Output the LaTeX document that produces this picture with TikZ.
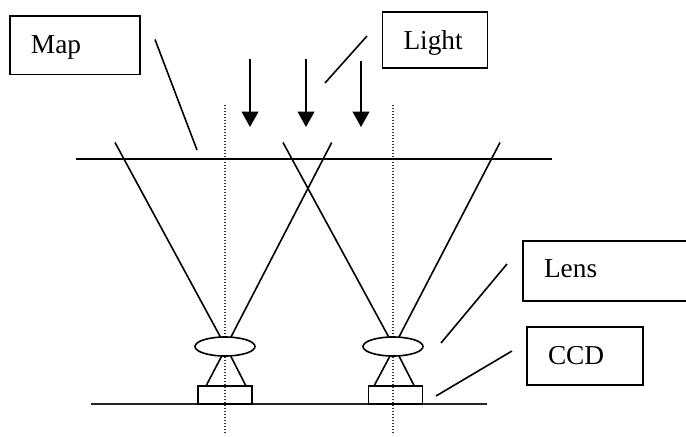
\documentclass[tikz,border=0pt]{standalone}
\usepackage{fontspec}
\setmainfont{Liberation Serif}
\usetikzlibrary{arrows.meta,shapes.geometric}
\tikzset{
  px/.style={x=0.75pt,y=-0.75pt},
  ln/.style={line width=1.2pt,draw=black},
  thinln/.style={line width=1.1pt,draw=black!85},
  dotln/.style={line width=1.1pt,draw=black!80,dash pattern=on 0.9pt off 1.35pt},
  arrowline/.style={ln,-{Triangle[length=11.5pt,width=12.5pt]}},
  labelbox/.style={draw=black,line width=1.2pt,inner ysep=0pt,inner xsep=15.75pt,align=left,
    font=\fontsize{20.5pt}{23pt}\selectfont,text depth=0pt},
  lensnode/.style={draw=black,line width=1.2pt,fill=white,ellipse,minimum width=45pt,minimum height=14.25pt,inner sep=0pt},
  ccdnode/.style={draw=black,line width=1.2pt,minimum width=40.5pt,minimum height=13.5pt,inner sep=0pt},
}
\begin{document}
\begin{tikzpicture}[px]
\useasboundingbox (0,0) rectangle (686,436);
% label boxes
\node[labelbox,text width=66pt,minimum height=43.9pt,text height=12.4pt] (mapbox) at (75,45.25) {Map};
\node[labelbox,text width=47.25pt,minimum height=42pt,text height=13.5pt] (lightbox) at (435,40) {Light};
\node[labelbox,text width=93.75pt,minimum height=45pt,text height=9pt] (lensbox) at (606.5,271) {Lens};
\node[labelbox,text width=55.5pt,minimum height=43.5pt,text height=12.6pt] (ccdbox) at (585,356) {CCD};
% free ends
\coordinate (mapA) at (155,39.5);  \coordinate (mapB) at (197,150);
\coordinate (lightA) at (367,36);  \coordinate (lightB) at (325,83);
\coordinate (lensA) at (507,264);  \coordinate (lensB) at (441,343);
\coordinate (ccdA) at (512,351);   \coordinate (ccdB) at (436,396);
\coordinate (axisLt) at (225,105); \coordinate (axisLb) at (225,434);
\coordinate (axisRt) at (393,105); \coordinate (axisRb) at (393,434);
\coordinate (a1t) at (250,59); \coordinate (a1b) at (250,127);
\coordinate (a2t) at (306,59); \coordinate (a2b) at (306,127);
\coordinate (a3t) at (361,61); \coordinate (a3b) at (361,127);
\coordinate (mapL) at (76,159);  \coordinate (mapR) at (552,159);
\coordinate (baseL) at (91,404); \coordinate (baseR) at (487,404);
% leaders
\draw[ln] (mapA) -- (mapB);
\draw[ln] (lightA) -- (lightB);
\draw[ln] (lensA) -- (lensB);
\draw[ln] (ccdA) -- (ccdB);
% dotted axes
\draw[dotln] (axisLt) -- (axisLb);
\draw[dotln] (axisRt) -- (axisRb);
% arrows
\draw[arrowline] (a1t) -- (a1b);
\draw[arrowline] (a2t) -- (a2b);
\draw[arrowline] (a3t) -- (a3b);
% map and base
\draw[line width=1.35pt,draw=black] (mapL) -- (mapR);
\draw[thinln] (baseL) -- (baseR);
% lenses
\node[lensnode] (lensL) at (225,346.5) {};
\node[lensnode] (lensR) at (393,346.5) {};
% CCDs
\node[ccdnode] (ccdL) at (225,395) {};
\node[ccdnode] (ccdR) at (395.5,395) {};
% rays
\coordinate (r1) at (115,142.5); \coordinate (r1e) at (220.7,337.5);
\coordinate (r2) at (331.7,142.5); \coordinate (r2e) at (230.7,337.5);
\coordinate (r3) at (283,142.5); \coordinate (r3e) at (389,337.5);
\coordinate (r4) at (500,142.5); \coordinate (r4e) at (398.7,337.5);
\draw[ln] (r1) -- (r1e);
\draw[ln] (r2) -- (r2e);
\draw[ln] (r3) -- (r3e);
\draw[ln] (r4) -- (r4e);
% lower cones
\coordinate (c1) at (221.7,356); \coordinate (c1e) at (206,386);
\coordinate (c2) at (230.7,356); \coordinate (c2e) at (246,386);
\coordinate (c3) at (390,356);   \coordinate (c3e) at (374,386);
\coordinate (c4) at (399,356);   \coordinate (c4e) at (414.3,386);
\draw[ln] (c1) -- (c1e);
\draw[ln] (c2) -- (c2e);
\draw[ln] (c3) -- (c3e);
\draw[ln] (c4) -- (c4e);
\end{tikzpicture}
\end{document}
